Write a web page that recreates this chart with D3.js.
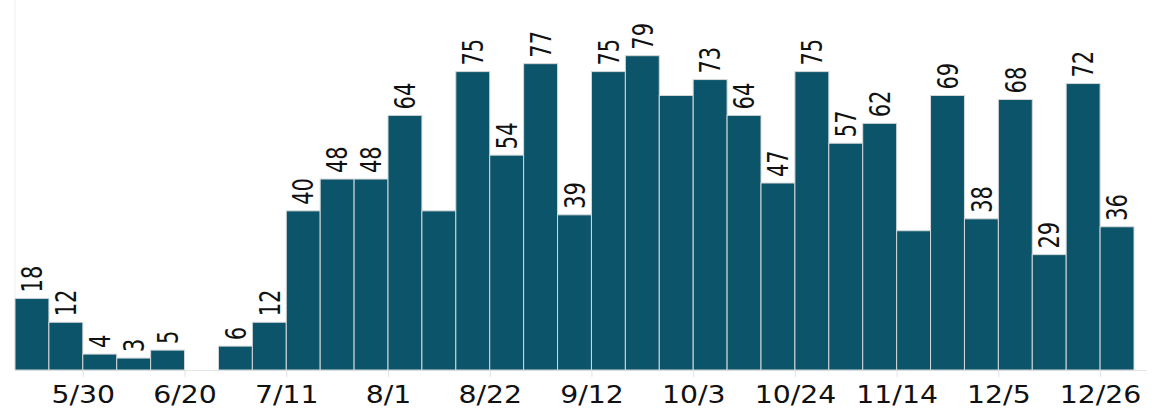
<!DOCTYPE html>
<html lang="en">
	<head>
		<meta charset="utf-8">
		<title>Weekly counts</title>
		<script type="text/javascript" src="https://d3js.org/d3.v7.min.js"></script>
		<style type="text/css">
			body { margin: 0; background: white; }
			#escenario { display: block; }
			text { font-family: "DejaVu Sans", sans-serif; fill: #111; }
		</style>
	</head>
	<body>
		<svg id="escenario" width="1163" height="408"></svg>

		<script type="text/javascript">
			// weeks start 16 May, one bar per week
			const firstWeek = "2020-05-16";
			const weekValues = [18, 12, 4, 3, 5, 0, 6, 12, 40, 48, 48, 64, 40, 75, 54, 77, 39,
				75, 79, 69, 73, 64, 47, 75, 57, 62, 35, 69, 38, 68, 29, 72, 36];
			// weeks whose value is not printed above the bar
			const unlabeledWeeks = [5, 12, 19, 26];
			const tickEvery = 3;
			const tickStart = 2; // 5/30

			const left = 15, right = 1134, baseY = 370;

			const parse = d3.utcParse("%Y-%m-%d");
			const fmt = d3.utcFormat("%-m/%-d");
			const start = parse(firstWeek);
			const weeks = weekValues.map((v, i) => ({
				date: d3.utcWeek.offset(start, i),
				end: d3.utcWeek.offset(start, i + 1),
				value: v,
				label: !unlabeledWeeks.includes(i)
			}));

			const x = d3.scaleUtc()
				.domain([start, weeks[weeks.length - 1].end])
				.range([left, right]);

			const y = d3.scaleLinear()
				.domain([0, 93])
				.range([baseY, 0]);

			const svg = d3.select("#escenario");

			// faint frame lines
			svg.append("line")
				.attr("x1", left).attr("x2", left)
				.attr("y1", 0).attr("y2", baseY)
				.style("stroke", "#f0f0f0");

			svg.append("line")
				.attr("x1", left).attr("x2", right + 13)
				.attr("y1", baseY + 0.5).attr("y2", baseY + 0.5)
				.style("stroke", "#e4e4e4");

			// bars
			svg.append("g")
				.selectAll("rect")
				.data(weeks.filter(d => d.value > 0))
				.enter()
				.append("rect")
				.attr("x", d => x(d.date))
				.attr("width", d => x(d.end) - x(d.date))
				.attr("y", d => y(d.value))
				.attr("height", d => y(0) - y(d.value))
				.style("fill", "#0c5469")
				.style("stroke", "#d4d8da")
				.style("stroke-width", 1);

			// value labels (text is a little stretched sideways in the original)
			svg.append("g")
				.selectAll("text")
				.data(weeks.filter(d => d.label && d.value > 0))
				.enter()
				.append("text")
				.attr("transform", d => {
					const cx = (x(d.date) + x(d.end)) / 2;
					return "translate(" + cx + "," + (y(d.value) - 6) + ") scale(1.35,1) rotate(-90)";
				})
				.attr("dy", "0.36em")
				.style("font-size", "21px")
				.text(d => d.value);

			// x axis
			const tickDates = weeks.filter((d, i) => i >= tickStart && (i - tickStart) % tickEvery === 0)
				.map(d => d.date);

			const axis = svg.append("g")
				.attr("transform", "translate(0," + baseY + ")")
				.call(d3.axisBottom(x).tickValues(tickDates).tickFormat(fmt).tickSize(7).tickPadding(4));

			axis.select(".domain").remove();
			axis.selectAll(".tick line").style("stroke", "#e2e2e2");
			axis.selectAll(".tick text")
				.attr("y", 0)
				.attr("dy", 0)
				.attr("transform", "translate(0,33) scale(1.18,1)")
				.style("font-size", "24px")
				.style("font-family", "'DejaVu Sans', sans-serif")
				.style("fill", "#111");
		</script>
	</body>
</html>
